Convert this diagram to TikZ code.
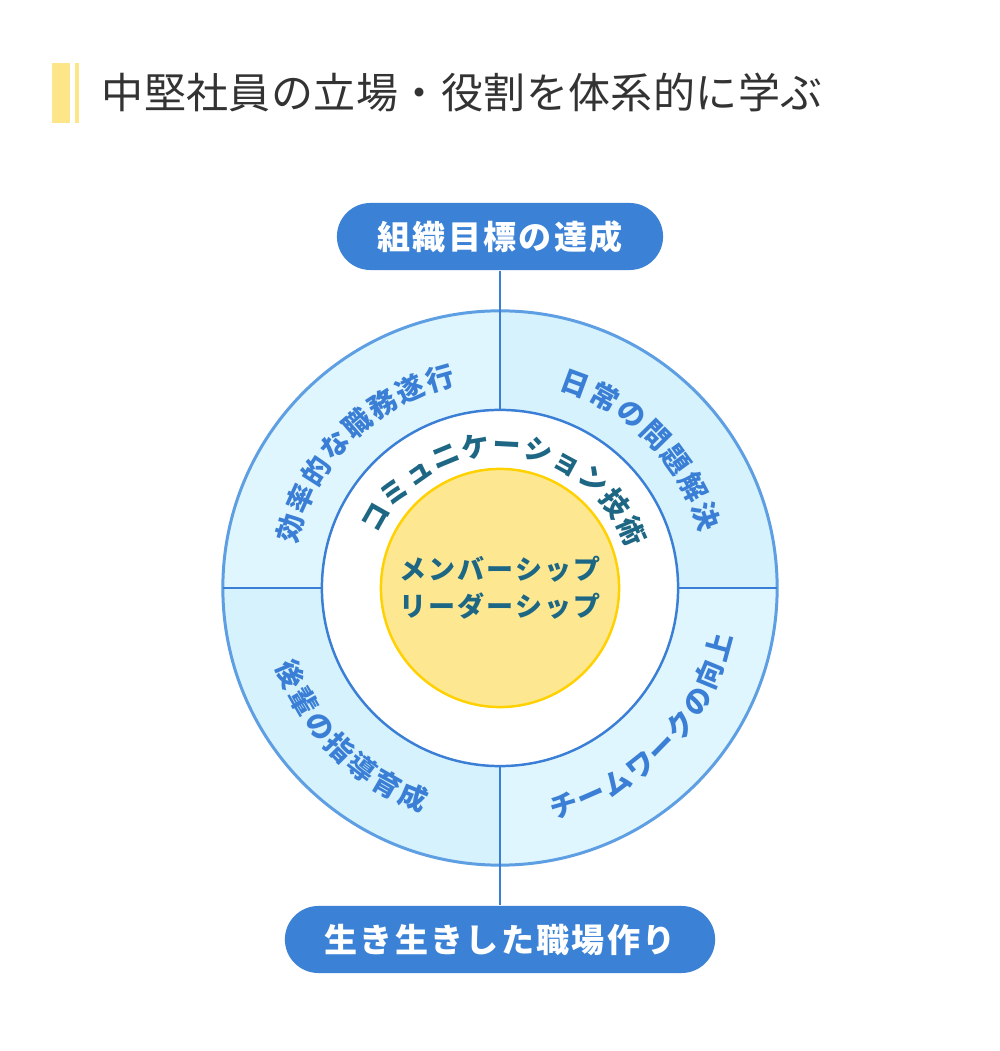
\documentclass[tikz,border=0pt]{standalone}
\usepackage{fontspec}
\setmainfont{Noto Sans CJK JP}
\usetikzlibrary{positioning,calc}

\definecolor{pillblue}{HTML}{3B82D6}
\definecolor{lineblue}{HTML}{3A7FD5}
\definecolor{rimblue}{HTML}{5E9FE3}
\definecolor{quadA}{HTML}{E0F6FE}
\definecolor{quadB}{HTML}{D5F2FD}
\definecolor{coreyellow}{HTML}{FDE891}
\definecolor{coregold}{HTML}{FFD100}
\definecolor{tealtext}{HTML}{1E6784}
\definecolor{titlegray}{HTML}{333333}
\definecolor{baryellow}{HTML}{FDE68A}

\newcommand\titlefont{\fontsize{11.95pt}{14pt}\selectfont\addfontfeature{LetterSpace=1}}
\newcommand\pillfont{\fontsize{9.4pt}{11pt}\selectfont\bfseries\addfontfeature{LetterSpace=7}}
\newcommand\ringfont{\fontsize{7.97pt}{9pt}\selectfont\bfseries}
\newcommand\corefont{\fontsize{7.68pt}{10.5pt}\selectfont\bfseries\addfontfeature{LetterSpace=8}}

\begin{document}
\begin{tikzpicture}[
  x=0.01cm, y=0.01cm,
  pill/.style={rectangle,rounded corners=0.335cm,fill=pillblue,text=white,
               font=\pillfont,minimum height=0.67cm,inner sep=0pt,
               text height=0.88em,text depth=0.12em},
  ring/.style={circle,inner sep=0pt,outer sep=0pt},
  ringtxt/.style={font=\ringfont,text=lineblue,inner sep=0pt,
                  text height=0.88em,text depth=0.12em},
  midtxt/.style={ringtxt,text=tealtext},
  link/.style={lineblue,line width=0.7pt},
]
\useasboundingbox[fill=white] (0,0) rectangle (1000,1051);

% heading
\fill[baryellow] (52,928) rectangle (70,988);
\fill[baryellow] (75,928) rectangle (79,988);
\node[anchor=west,font=\titlefont,text=titlegray,inner sep=0pt,
      text height=0.88em,text depth=0.12em] (title) at (101,956)
   {中堅社員の立場・役割を体系的に学ぶ};

\coordinate (c) at (500,463);

% outer ring quarters
\fill[quadB] (c) -- ++(2.77cm,0) arc[start angle=0,end angle=90,radius=2.77cm] -- cycle;
\fill[quadA] (c) -- ++(0,2.77cm) arc[start angle=90,end angle=180,radius=2.77cm] -- cycle;
\fill[quadB] (c) -- ++(-2.77cm,0) arc[start angle=180,end angle=270,radius=2.77cm] -- cycle;
\fill[quadA] (c) -- ++(0,-2.77cm) arc[start angle=270,end angle=360,radius=2.77cm] -- cycle;

\node[ring,draw=rimblue,line width=0.85pt,minimum size=5.54cm] (outer) at (c) {};
\node[ring,draw=lineblue,fill=white,line width=0.7pt,minimum size=3.56cm] (mid) at (c) {};
\node[ring,draw=coregold,fill=coreyellow,line width=0.7pt,minimum size=2.38cm,
      font=\corefont,text=tealtext,align=center] (core) at (c)
   {メンバーシップ\\リーダーシップ};

\node[pill,minimum width=3.26cm] (goal) at (500,814.5) {組織目標の達成};
\node[pill,minimum width=4.30cm] (work) at (500,111.5) {生き生きした職場作り};

\draw[link] (goal.south) -- (mid.north);
\draw[link] (mid.south) -- (work.north);
\draw[link] (outer.west) -- (mid.west);
\draw[link] (mid.east) -- (outer.east);

% texts on the rings
\foreach \ch [count=\i from 0] in {効,率,的,な,職,務,遂,行}{
  \pgfmathsetmacro\a{164.05-8.3*\i}
  \node[ringtxt,rotate=\a-90] (tl-\i) at ($(c)+(\a:221)$) {\ch};
}
\foreach \ch [count=\i from 0] in {日,常,の,問,題,解,決}{
  \pgfmathsetmacro\a{69.7-8.4*\i}
  \node[ringtxt,rotate=\a-90] (tr-\i) at ($(c)+(\a:221)$) {\ch};
}
\foreach \ch [count=\i from 0] in {後,輩,の,指,導,育,成}{
  \pgfmathsetmacro\a{202.5+7.5*\i}
  \node[ringtxt,rotate=\a+90] (bl-\i) at ($(c)+(\a:224)$) {\ch};
}
\foreach \ch [count=\i from 0] in {チ,ー,ム,ワ,ー,ク,の,向,上}{
  \pgfmathsetmacro\a{286.4+7.3*\i}
  \node[ringtxt,rotate=\a+90] (br-\i) at ($(c)+(\a:224)$) {\ch};
}
\foreach \ch [count=\i from 0] in {コ,ミ,ュ,ニ,ケ,ー,シ,ョ,ン,技,術}{
  \pgfmathsetmacro\a{150.5-12.7*\i}
  \node[midtxt,rotate=\a-90] (cm-\i) at ($(c)+(\a:146)$) {\ch};
}
\end{tikzpicture}
\end{document}
